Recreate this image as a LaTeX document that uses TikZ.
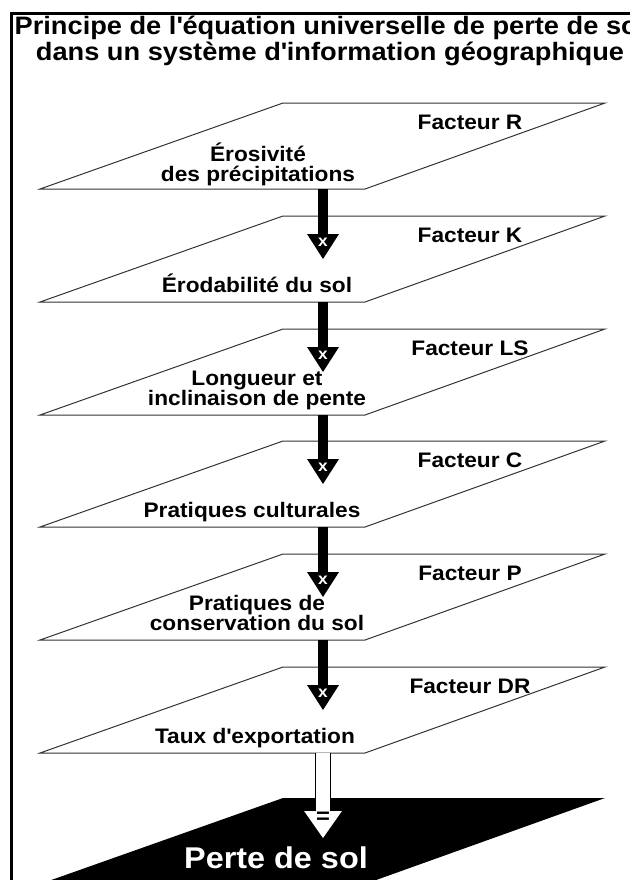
\documentclass[tikz,border=0pt]{standalone}
\usepackage{fontspec}
\setmainfont{Liberation Sans}[FakeStretch=1.08]
\usetikzlibrary{arrows.meta}
\tikzset{
  plane/.style={draw=black!80, line width=0.5pt},
  layer/.style={font=\fontsize{10.5}{10}\selectfont\bfseries, align=center, anchor=base, inner sep=0pt},
  factor/.style={font=\fontsize{10.5}{10}\selectfont\bfseries, anchor=base, inner sep=0pt},
  flow/.style={line width=5pt, -{Triangle[width=16pt,length=12.5pt,line width=0pt]}},
  mult/.style={text=white, font=\fontsize{8}{8}\selectfont\bfseries, inner sep=0pt}
}
\begin{document}
\begin{tikzpicture}[x=0.5pt,y=-0.5pt]
      \useasboundingbox (0,0) rectangle (630,880);
      \clip (0,0) rectangle (630,880);
      \draw[line width=1.5pt] (11.5,880) -- (11.5,13) -- (630,13);
      \node[anchor=base, align=center, inner sep=0pt,
            font=\fontsize{12.6}{11}\selectfont\bfseries] (title) at (330,60)
        {Principe de l\textquotesingle équation universelle de perte de sol\\dans un système d\textquotesingle information géographique};
      % planes
      \draw[plane] (40,189) -- (283,103) -- (605,103) -- (365,189) -- cycle;
      \draw[plane] (40,302) -- (283,216) -- (605,216) -- (365,302) -- cycle;
      \draw[plane] (40,415) -- (283,329) -- (605,329) -- (365,415) -- cycle;
      \draw[plane] (40,527) -- (283,441) -- (605,441) -- (365,527) -- cycle;
      \draw[plane] (40,640) -- (283,554) -- (605,554) -- (365,640) -- cycle;
      \draw[plane] (40,753) -- (283,667) -- (605,667) -- (365,753) -- cycle;
      \fill (40,884) -- (283,798) -- (605,798) -- (365,884) -- cycle;
      \draw
        (258,181) node[layer] (R-lbl){Érosivité\\des précipitations}
        (257,292) node[layer] (K-lbl){Érodabilité du sol}
        (257,405) node[layer] (LS-lbl){Longueur et\\inclinaison de pente}
        (252,517) node[layer] (C-lbl){Pratiques culturales}
        (257,630) node[layer] (P-lbl){Pratiques de\\conservation du sol}
        (255,743) node[layer] (DR-lbl){Taux d\textquotesingle exportation}
        (276,868) node[layer, text=white, font=\fontsize{15}{15}\selectfont\bfseries] (loss-lbl){Perte de sol};
      \draw
        (470,129) node[factor] (R-fac){Facteur R}
        (470,242) node[factor] (K-fac){Facteur K}
        (470,355) node[factor] (LS-fac){Facteur LS}
        (470,467) node[factor] (C-fac){Facteur C}
        (470,580) node[factor] (P-fac){Facteur P}
        (470,693) node[factor] (DR-fac){Facteur DR};
      \coordinate (R-out) at (323,189);
      \coordinate (K-in) at (323,259);
      \coordinate (K-out) at (323,302);
      \coordinate (LS-in) at (323,372);
      \coordinate (LS-out) at (323,415);
      \coordinate (C-in) at (323,484);
      \coordinate (C-out) at (323,527);
      \coordinate (P-in) at (323,597);
      \coordinate (P-out) at (323,640);
      \coordinate (DR-in) at (323,710);
      \coordinate (DR-out) at (323,753);
      \coordinate (loss-in) at (323,840);
      \begin{scope}[flow]
        \draw (R-out) to (K-in);
        \draw (K-out) to (LS-in);
        \draw (LS-out) to (C-in);
        \draw (C-out) to (P-in);
        \draw (P-out) to (DR-in);
      \end{scope}
      \draw[line width=8pt, -{Triangle[width=21pt,length=15pt,line width=0pt]}] (DR-out) to (loss-in);
      \draw[white, line width=6.6pt, shorten >=1pt, -{Triangle[width=18.8pt,length=13.4pt,line width=0pt]}] (DR-out) to (loss-in);
      \draw
        (323,242) node[mult] (K-x){x}
        (323,355) node[mult] (LS-x){x}
        (323,467) node[mult] (C-x){x}
        (323,580) node[mult] (P-x){x}
        (323,693) node[mult] (DR-x){x}
        (323,818) node[mult, text=black, font=\fontsize{11}{11}\selectfont\bfseries] (loss-eq){=};
    \end{tikzpicture}
\end{document}
